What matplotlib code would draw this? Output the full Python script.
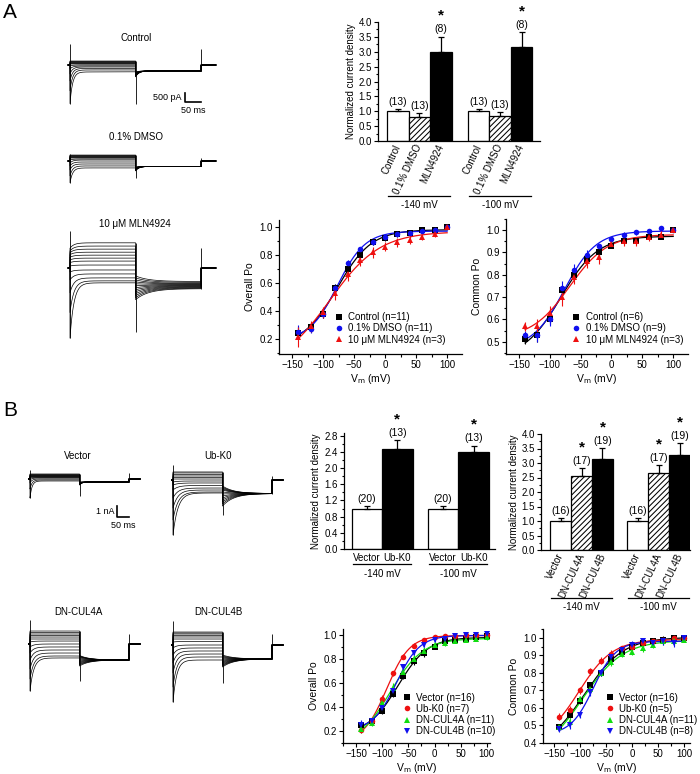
import numpy as np
import matplotlib.pyplot as plt
from matplotlib.lines import Line2D
from matplotlib.ticker import MultipleLocator
import matplotlib.transforms as mtrans

plt.rcParams['font.family'] = ['Liberation Sans', 'DejaVu Sans']
plt.rcParams['font.size'] = 7
plt.rcParams['axes.linewidth'] = 0.9
plt.rcParams['hatch.linewidth'] = 0.75
plt.rcParams['hatch.color'] = 'black'

# ---------------- data ----------------
VM = [-140, -120, -100, -80, -60, -40, -20, 0, 20, 40, 60, 80, 100]

# A: current density
A_GROUP_LABELS = ['Control', '0.1% DMSO', 'MLN4924']
A_MEAN_140 = [1.0, 0.80, 2.98]
A_SEM_140 = [0.07, 0.13, 0.53]
A_MEAN_100 = [1.0, 0.83, 3.15]
A_SEM_100 = [0.07, 0.13, 0.52]
A_N = ['(13)', '(13)', '(8)']
A_SIG = [False, False, True]

# A: Po curves
A_LABELS = ['Control (n=11)', '0.1% DMSO (n=11)', '10 \u03bcM MLN4924 (n=3)']
A_LABELS_C = ['Control (n=6)', '0.1% DMSO (n=9)', '10 \u03bcM MLN4924 (n=3)']
A_OVERALL = [
    [0.24, 0.28, 0.38, 0.56, 0.70, 0.80, 0.89, 0.92, 0.95, 0.96, 0.975, 0.98, 1.0],
    [0.25, 0.27, 0.38, 0.56, 0.74, 0.84, 0.89, 0.93, 0.95, 0.96, 0.97, 0.98, 1.0],
    [0.21, 0.29, 0.39, 0.53, 0.66, 0.76, 0.82, 0.86, 0.89, 0.91, 0.93, 0.95, 1.0],
]
A_OVERALL_ERR = [
    [0.04, 0.03, 0.03, 0.03, 0.03, 0.03, 0.02, 0.02, 0.02, 0.01, 0.01, 0.01, 0.0],
    [0.05, 0.03, 0.03, 0.03, 0.02, 0.02, 0.02, 0.01, 0.01, 0.01, 0.01, 0.01, 0.0],
    [0.07, 0.04, 0.04, 0.05, 0.05, 0.04, 0.04, 0.03, 0.03, 0.03, 0.02, 0.02, 0.0],
]
A_COMMON = [
    [0.51, 0.53, 0.60, 0.73, 0.80, 0.87, 0.90, 0.93, 0.95, 0.95, 0.97, 0.97, 1.0],
    [0.53, 0.53, 0.60, 0.74, 0.82, 0.89, 0.93, 0.96, 0.98, 0.99, 0.995, 1.01, 1.0],
    [0.57, 0.57, 0.63, 0.70, 0.79, 0.86, 0.88, 0.94, 0.95, 0.95, 0.97, 0.98, 1.0],
]
A_COMMON_ERR = [
    [0.02, 0.03, 0.02, 0.02, 0.02, 0.02, 0.02, 0.01, 0.01, 0.01, 0.01, 0.01, 0.0],
    [0.02, 0.03, 0.03, 0.03, 0.03, 0.02, 0.01, 0.01, 0.01, 0.01, 0.01, 0.01, 0.0],
    [0.02, 0.03, 0.03, 0.04, 0.03, 0.03, 0.03, 0.02, 0.02, 0.02, 0.02, 0.02, 0.0],
]
A_COLORS = ['black', '#1010ee', '#ee1010']
A_MARKERS = ['s', 'o', '^']

# B: current density
B1_LABELS = ['Vector', 'Ub-K0']
B1_MEAN_140 = [1.0, 2.47]
B1_SEM_140 = [0.07, 0.22]
B1_MEAN_100 = [1.0, 2.39]
B1_SEM_100 = [0.07, 0.17]
B1_N = ['(20)', '(13)']
B1_SIG = [False, True]

B2_LABELS = ['Vector', 'DN-CUL4A', 'DN-CUL4B']
B2_MEAN_140 = [1.0, 2.54, 3.13]
B2_SEM_140 = [0.09, 0.28, 0.38]
B2_MEAN_100 = [1.0, 2.64, 3.28]
B2_SEM_100 = [0.09, 0.30, 0.42]
B2_N = ['(16)', '(17)', '(19)']
B2_SIG = [False, True, True]

# B: Po curves
B_LABELS = ['Vector (n=16)', 'Ub-K0 (n=7)', 'DN-CUL4A (n=11)', 'DN-CUL4B (n=10)']
B_LABELS_C = ['Vector (n=16)', 'Ub-K0 (n=5)', 'DN-CUL4A (n=11)', 'DN-CUL4B (n=8)']
B_OVERALL = [
    [0.25, 0.28, 0.37, 0.51, 0.66, 0.78, 0.85, 0.90, 0.95, 0.96, 0.97, 0.98, 0.99],
    [0.21, 0.28, 0.47, 0.68, 0.82, 0.91, 0.96, 0.98, 0.99, 0.99, 1.0, 1.0, 1.0],
    [0.22, 0.27, 0.43, 0.56, 0.69, 0.80, 0.87, 0.92, 0.93, 0.95, 0.96, 0.97, 0.98],
    [0.25, 0.28, 0.39, 0.53, 0.73, 0.85, 0.92, 0.96, 0.97, 0.99, 1.0, 1.0, 1.01],
]
B_OVERALL_ERR = [
    [0.03, 0.03, 0.03, 0.03, 0.03, 0.03, 0.03, 0.02, 0.02, 0.02, 0.02, 0.01, 0.01],
    [0.03, 0.03, 0.03, 0.02, 0.02, 0.02, 0.01, 0.01, 0.01, 0.01, 0.01, 0.01, 0.01],
    [0.04, 0.03, 0.04, 0.04, 0.03, 0.03, 0.03, 0.02, 0.02, 0.02, 0.02, 0.02, 0.02],
    [0.04, 0.03, 0.03, 0.03, 0.03, 0.02, 0.02, 0.02, 0.01, 0.01, 0.01, 0.01, 0.01],
]
B_COMMON = [
    [0.49, 0.56, 0.64, 0.73, 0.80, 0.88, 0.92, 0.95, 0.97, 0.98, 0.99, 1.0, 1.0],
    [0.55, 0.59, 0.70, 0.81, 0.87, 0.91, 0.94, 0.95, 0.97, 0.98, 0.99, 1.0, 1.0],
    [0.49, 0.52, 0.65, 0.71, 0.80, 0.86, 0.91, 0.92, 0.94, 0.96, 0.98, 0.98, 0.99],
    [0.48, 0.50, 0.56, 0.69, 0.80, 0.89, 0.93, 0.96, 0.98, 0.97, 0.98, 0.97, 1.0],
]
B_COMMON_ERR = [
    [0.02, 0.02, 0.02, 0.02, 0.02, 0.02, 0.02, 0.02, 0.01, 0.02, 0.02, 0.01, 0.01],
    [0.02, 0.02, 0.02, 0.02, 0.02, 0.02, 0.01, 0.01, 0.01, 0.01, 0.01, 0.01, 0.01],
    [0.02, 0.02, 0.02, 0.02, 0.02, 0.02, 0.02, 0.02, 0.02, 0.02, 0.02, 0.02, 0.01],
    [0.02, 0.02, 0.02, 0.02, 0.02, 0.02, 0.02, 0.02, 0.01, 0.02, 0.02, 0.02, 0.01],
]
B_COLORS = ['black', '#ee1010', '#10dd10', '#1010ee']
B_MARKERS = ['s', 'o', '^', 'v']

# current traces (pA), one value per sweep
TR_A_CTRL = dict(
    ss1=[220, 190, 165, 140, 110, 80, 55, 0, -55, -110, -190, -275, -385],
    pk1=[220, 190, 165, 140, 110, 80, 55, -55, -220, -495, -880, -1430, -2145],
    ss2=[-330] * 13,
    pk2=[-660, -640, -620, -600, -580, -560, -540, -520, -500, -470, -440, -410, -385],
    caps=[1155, -2145, -2145, 880])
TR_A_DMSO = dict(
    ss1=[330, 300, 275, 250, 220, 190, 165, 110, 55, -55, -165, -275, -385],
    pk1=[330, 300, 275, 250, 220, 190, 165, 55, -110, -275, -495, -825, -1210],
    ss2=[-300] * 13,
    pk2=[-550, -540, -520, -500, -490, -470, -440, -440, -410, -385, -385, -360, -330],
    caps=[385, -1210, -935, 165])
TR_A_MLN = dict(
    ss1=[1400, 1220, 1050, 880, 715, 550, 385, 165, -110, -330, -550, -715, -825],
    pk1=[1100, 950, 850, 740, 600, 450, 300, 110, -220, -660, -1375, -2475, -3900],
    ss2=[-1150, -1120, -1090, -1060, -1030, -1000, -970, -940, -910, -880, -850, -800, -750],
    pk2=[-1760, -1650, -1540, -1430, -1320, -1210, -1100, -990, -880, -770, -660, -550, -440],
    caps=[2035, -3900, -3575, 1100])
TR_B_VEC = dict(
    ss1=[455, 410, 365, 330, 290, 255, 220, 180, 135, 90, 0, -90, -180],
    pk1=[455, 410, 365, 330, 290, 255, 220, 180, 90, -90, -365, -910, -1730],
    ss2=[-270] * 13,
    pk2=[-545, -525, -500, -480, -455, -435, -410, -390, -365, -345, -320, -300, -275],
    caps=[820, -1730, -1545, 545])
TR_B_UBK0 = dict(
    ss1=[730, 640, 500, 365, 230, 90, -90, -270, -500, -730, -910, -1090, -1180],
    pk1=[730, 640, 500, 365, 230, 90, -180, -455, -910, -1640, -2550, -3640, -5000],
    ss2=[-1230] * 13,
    pk2=[-2370, -2180, -2000, -1820, -1640, -1460, -1270, -1090, -910, -820, -730, -640, -545],
    caps=[1365, -5000, -3185, 365])
TR_B_CUL4A = dict(
    ss1=[1180, 1045, 910, 775, 635, 455, 270, 0, -270, -545, -820, -1090, -1270],
    pk1=[1180, 1045, 910, 775, 635, 455, 180, -270, -820, -1455, -2275, -3185, -4275],
    ss2=[-1455] * 13,
    pk2=[-2000, -1900, -1820, -1730, -1640, -1550, -1460, -1365, -1270, -1180, -1140, -1090, -1045],
    caps=[2185, -4275, -3365, 910])
TR_B_CUL4B = dict(
    ss1=[1180, 1090, 1000, 865, 730, 545, 320, 0, -270, -545, -820, -1090, -1365],
    pk1=[1180, 1090, 1000, 865, 730, 545, 270, -270, -910, -1640, -2550, -3820, -5190],
    ss2=[-1270] * 13,
    pk2=[-2000, -1900, -1820, -1730, -1640, -1550, -1460, -1365, -1270, -1180, -1090, -1000, -910],
    caps=[2185, -5190, -3460, 1000])

W, H = 700, 774
fig = plt.figure(figsize=(7, 7.74), dpi=100)


def px_axes(l, t, r, b):
    return fig.add_axes([l / W, 1 - b / H, (r - l) / W, (b - t) / H])


def fig_text(x, y, s, **kw):
    fig.text(x / W, 1 - y / H, s, **kw)


def fit_boltzmann(v, y):
    v = np.asarray(v, float)
    y = np.asarray(y, float)
    v0g, kg = np.meshgrid(np.arange(-150, 20, 0.5), np.arange(4, 60, 0.25))
    v0g = v0g.ravel()[:, None]
    kg = kg.ravel()[:, None]
    s = 1.0 / (1.0 + np.exp(-(v[None, :] - v0g) / kg))
    u = 1 - s
    a = (u * u).sum(1)
    b = (u * s).sum(1)
    c = (s * s).sum(1)
    d1 = (u * y).sum(1)
    d2 = (s * y).sum(1)
    det = a * c - b * b
    lo = (c * d1 - b * d2) / det
    hi = (a * d2 - b * d1) / det
    res = ((lo[:, None] * u + hi[:, None] * s - y) ** 2).sum(1)
    i = np.argmin(res)
    return lo[i], hi[i], v0g[i, 0], kg[i, 0]


def po_panel(ax, series, errs, colors, markers, labels, ylim, ymajor, yminor,
             ylabel, xlim, leg_anchor):
    vv = np.linspace(-140, 100, 300)
    for y, e, c, m in zip(series, errs, colors, markers):
        lo, hi, v0, k = fit_boltzmann(VM, y)
        ax.plot(vv, lo + (hi - lo) / (1 + np.exp(-(vv - v0) / k)), color=c, lw=0.9, zorder=2)
        ax.errorbar(VM, y, yerr=e, fmt=m, color=c, ms=4, mew=0, elinewidth=0.8,
                    capsize=2, capthick=0.8, zorder=3)
    ax.set_xlim(*xlim)
    ax.set_ylim(*ylim)
    ax.xaxis.set_major_locator(MultipleLocator(50))
    ax.xaxis.set_minor_locator(MultipleLocator(25))
    ax.yaxis.set_major_locator(MultipleLocator(ymajor))
    ax.yaxis.set_minor_locator(MultipleLocator(yminor))
    ax.yaxis.set_major_formatter(plt.FormatStrFormatter('%.1f'))
    ax.tick_params(which='major', direction='out', length=3, width=0.8, labelsize=7, pad=1.5)
    ax.tick_params(which='minor', direction='out', length=1.8, width=0.8)
    for sp in ('top', 'right'):
        ax.spines[sp].set_visible(False)
    ax.set_ylabel(ylabel, fontsize=7.5, labelpad=3)
    ax.set_xlabel('V$_\\mathrm{m}$ (mV)', fontsize=7.5, labelpad=1)
    handles = [Line2D([], [], marker=m, color=c, ls='none', ms=4, mew=0)
               for c, m in zip(colors, markers)]
    ax.legend(handles, labels, loc='lower left', bbox_to_anchor=leg_anchor, frameon=False,
              fontsize=7, handlelength=1.0, handletextpad=0.5, labelspacing=0.12,
              borderaxespad=0, borderpad=0)


def bar_panel(ax, groups, fills, ns, sig, ylim, ymajor, yminor, names, rot, line_y,
              text_y, group_names):
    trans = mtrans.blended_transform_factory(ax.transData, ax.transAxes)
    centers_all = []
    for centers, vals, errs in groups:
        for c, v, e, f, n, s in zip(centers, vals, errs, fills, ns, sig):
            face, hatch = f
            ax.bar(c, v, width=1.0, color=face, edgecolor='black', hatch=hatch,
                   linewidth=0.9, zorder=2)
            ax.errorbar(c, v, yerr=[[0], [e]], fmt='none', ecolor='black', elinewidth=0.9,
                        capsize=2.5, capthick=0.9, zorder=3)
            ax.annotate(n, (c, v + e), xytext=(0, 1.5), textcoords='offset points',
                        ha='center', va='bottom', fontsize=7.5, annotation_clip=False)
            if s:
                ax.annotate('*', (c, v + e), xytext=(0, 12), textcoords='offset points',
                            ha='center', va='baseline', fontsize=11, fontweight='bold',
                            annotation_clip=False)
        centers_all += list(centers)
    for (centers, _, _), gname in zip(groups, group_names):
        ax.plot([centers[0] - 0.45, centers[-1] + 0.45], [line_y, line_y], color='black',
                lw=0.9, transform=trans, clip_on=False)
        ax.text((centers[0] + centers[-1]) / 2, text_y, gname, transform=trans,
                ha='center', va='top', fontsize=7)
    ax.set_ylim(*ylim)
    ax.yaxis.set_major_locator(MultipleLocator(ymajor))
    ax.yaxis.set_minor_locator(MultipleLocator(yminor))
    ax.yaxis.set_major_formatter(plt.FormatStrFormatter('%.1f'))
    ax.set_xticks(centers_all)
    if rot:
        ax.set_xticklabels(names * len(groups), rotation=rot, ha='right', va='center',
                           rotation_mode='anchor', fontsize=7)
    else:
        ax.set_xticklabels(names * len(groups), fontsize=7)
    ax.tick_params(axis='x', length=0, pad=3)
    ax.tick_params(axis='y', which='major', direction='out', length=3, width=0.8,
                   labelsize=7, pad=1.5)
    ax.tick_params(axis='y', which='minor', direction='out', length=1.8, width=0.8)
    for sp in ('top', 'right'):
        ax.spines[sp].set_visible(False)
    ax.set_ylabel('Normalized current density', fontsize=7, labelpad=2)


def trace_panel(box, x0, y0, ms_px, pa_px, tr, tau1, tau2):
    l, t, r, b = box
    ax = px_axes(l, t, r, b)
    ax.set_xlim((l - x0) * ms_px, (r - x0) * ms_px)
    ax.set_ylim((y0 - b) * pa_px, (y0 - t) * pa_px)
    ax.axis('off')
    t1 = np.linspace(0, 200, 300)
    t2 = np.linspace(200, 400, 300)
    for s1, p1, s2, p2 in zip(tr['ss1'], tr['pk1'], tr['ss2'], tr['pk2']):
        i1 = s1 + (p1 - s1) * np.exp(-t1 / tau1)
        i2 = s2 + (p2 - s2) * np.exp(-(t2 - 200) / tau2)
        ax.plot(np.concatenate([[-6, 0], t1, t2, [400, 445]]),
                np.concatenate([[0, 0], i1, i2, [0, 0]]), color='black', lw=0.5)
    c0, c1, c2, c3 = tr['caps']
    ax.vlines(0, c1, c0, color='black', lw=0.6)
    ax.vlines(200, c2, max(tr['ss1']), color='black', lw=0.6)
    ax.vlines(400, min(tr['ss2']), c3, color='black', lw=0.6)
    return ax


def scale_bar(ax, x, y, dx, dy, ytxt, xtxt):
    ax.plot([x, x, x + dx], [y + dy, y, y], color='black', lw=1.2, clip_on=False)
    ax.text(x - 10, y + dy / 2, ytxt, ha='right', va='center', fontsize=6.5, clip_on=False)
    ax.annotate(xtxt, (x + dx / 2, y), xytext=(0, -3), textcoords='offset points',
                ha='center', va='top', fontsize=6.5, annotation_clip=False)


# ---------------- panel A ----------------
fig_text(10, 12, 'A', fontsize=15, ha='center', va='center')
ax = trace_panel((60, 40, 220, 110), 70, 65, 3.05, 55.6, TR_A_CTRL, 8, 10)
scale_bar(ax, 351, -2057, 50, 500, '500 pA', '50 ms')
trace_panel((60, 145, 220, 190), 70, 161, 3.05, 55.6, TR_A_DMSO, 8, 10)
trace_panel((60, 225, 220, 345), 70, 268, 3.05, 55.6, TR_A_MLN, 12, 40)
fig_text(136, 38, 'Control', fontsize=7, ha='center', va='center')
fig_text(136, 137, '0.1% DMSO', fontsize=7, ha='center', va='center')
fig_text(135, 224, '10 \u03bcM MLN4924', fontsize=7, ha='center', va='center')

ax = px_axes(378, 22, 540, 141)
fills3 = [('white', None), ('white', '//////'), ('black', None)]
bar_panel(ax, [([0, 1, 2], A_MEAN_140, A_SEM_140), ([3.77, 4.77, 5.77], A_MEAN_100, A_SEM_100)],
          fills3, A_N, A_SIG, (0, 4.0), 0.5, 0.25, A_GROUP_LABELS, 65, -0.462, -0.5,
          ['-140 mV', '-100 mV'])
ax.set_xlim(-0.93, 6.63)

ax = px_axes(279, 220, 462, 354)
po_panel(ax, A_OVERALL, A_OVERALL_ERR, A_COLORS, A_MARKERS, A_LABELS, (0.09, 1.05), 0.2, 0.1,
         'Overall Po', (-171, 124), (0.3, 0.07))
ax = px_axes(506, 219, 688, 354)
po_panel(ax, A_COMMON, A_COMMON_ERR, A_COLORS, A_MARKERS, A_LABELS_C, (0.445, 1.05), 0.1, 0.05,
         'Common Po', (-171, 124), (0.36, 0.07))

# ---------------- panel B ----------------
fig_text(10, 410, 'B', fontsize=15, ha='center', va='center')
ax = trace_panel((20, 460, 145, 530), 30, 479, 4.04, 91, TR_B_VEC, 8, 10)
scale_bar(ax, 351, -3458, 50, 1000, '1 nA', '50 ms')
trace_panel((160, 460, 290, 540), 173, 480, 4.04, 91, TR_B_UBK0, 20, 45)
trace_panel((20, 615, 145, 700), 30, 644, 4.04, 91, TR_B_CUL4A, 15, 40)
trace_panel((160, 615, 290, 710), 173, 645, 4.04, 91, TR_B_CUL4B, 15, 45)
fig_text(78, 456, 'Vector', fontsize=7, ha='center', va='center')
fig_text(218, 456, 'Ub-K0', fontsize=7, ha='center', va='center')
fig_text(78, 612, 'DN-CUL4A', fontsize=7, ha='center', va='center')
fig_text(218, 612, 'DN-CUL4B', fontsize=7, ha='center', va='center')

ax = px_axes(344, 433, 495, 549)
fills2 = [('white', None), ('black', None)]
bar_panel(ax, [([0, 1], B1_MEAN_140, B1_SEM_140), ([2.5, 3.5], B1_MEAN_100, B1_SEM_100)],
          fills2, B1_N, B1_SIG, (0, 2.87), 0.4, 0.2, B1_LABELS, 0, -0.13, -0.17,
          ['-140 mV', '-100 mV'])
ax.set_xlim(-0.75, 4.2)

ax = px_axes(541, 434, 690, 550)
bar_panel(ax, [([0, 1, 2], B2_MEAN_140, B2_SEM_140), ([3.67, 4.67, 5.67], B2_MEAN_100, B2_SEM_100)],
          fills3, B2_N, B2_SIG, (0, 4.0), 0.5, 0.25, B2_LABELS, 65, -0.414, -0.45,
          ['-140 mV', '-100 mV'])
ax.set_xlim(-0.93, 6.17)

ax = px_axes(343, 629, 490, 743)
po_panel(ax, B_OVERALL, B_OVERALL_ERR, B_COLORS, B_MARKERS, B_LABELS, (0.1, 1.05), 0.2, 0.1,
         'Overall Po', (-175, 106), (0.4, 0.06))
ax = px_axes(543, 629, 690, 743)
po_panel(ax, B_COMMON, B_COMMON_ERR, B_COLORS, B_MARKERS, B_LABELS_C, (0.4, 1.05), 0.1, 0.05,
         'Common Po', (-171, 111), (0.42, 0.06))

fig.savefig('out.png', dpi=100)
